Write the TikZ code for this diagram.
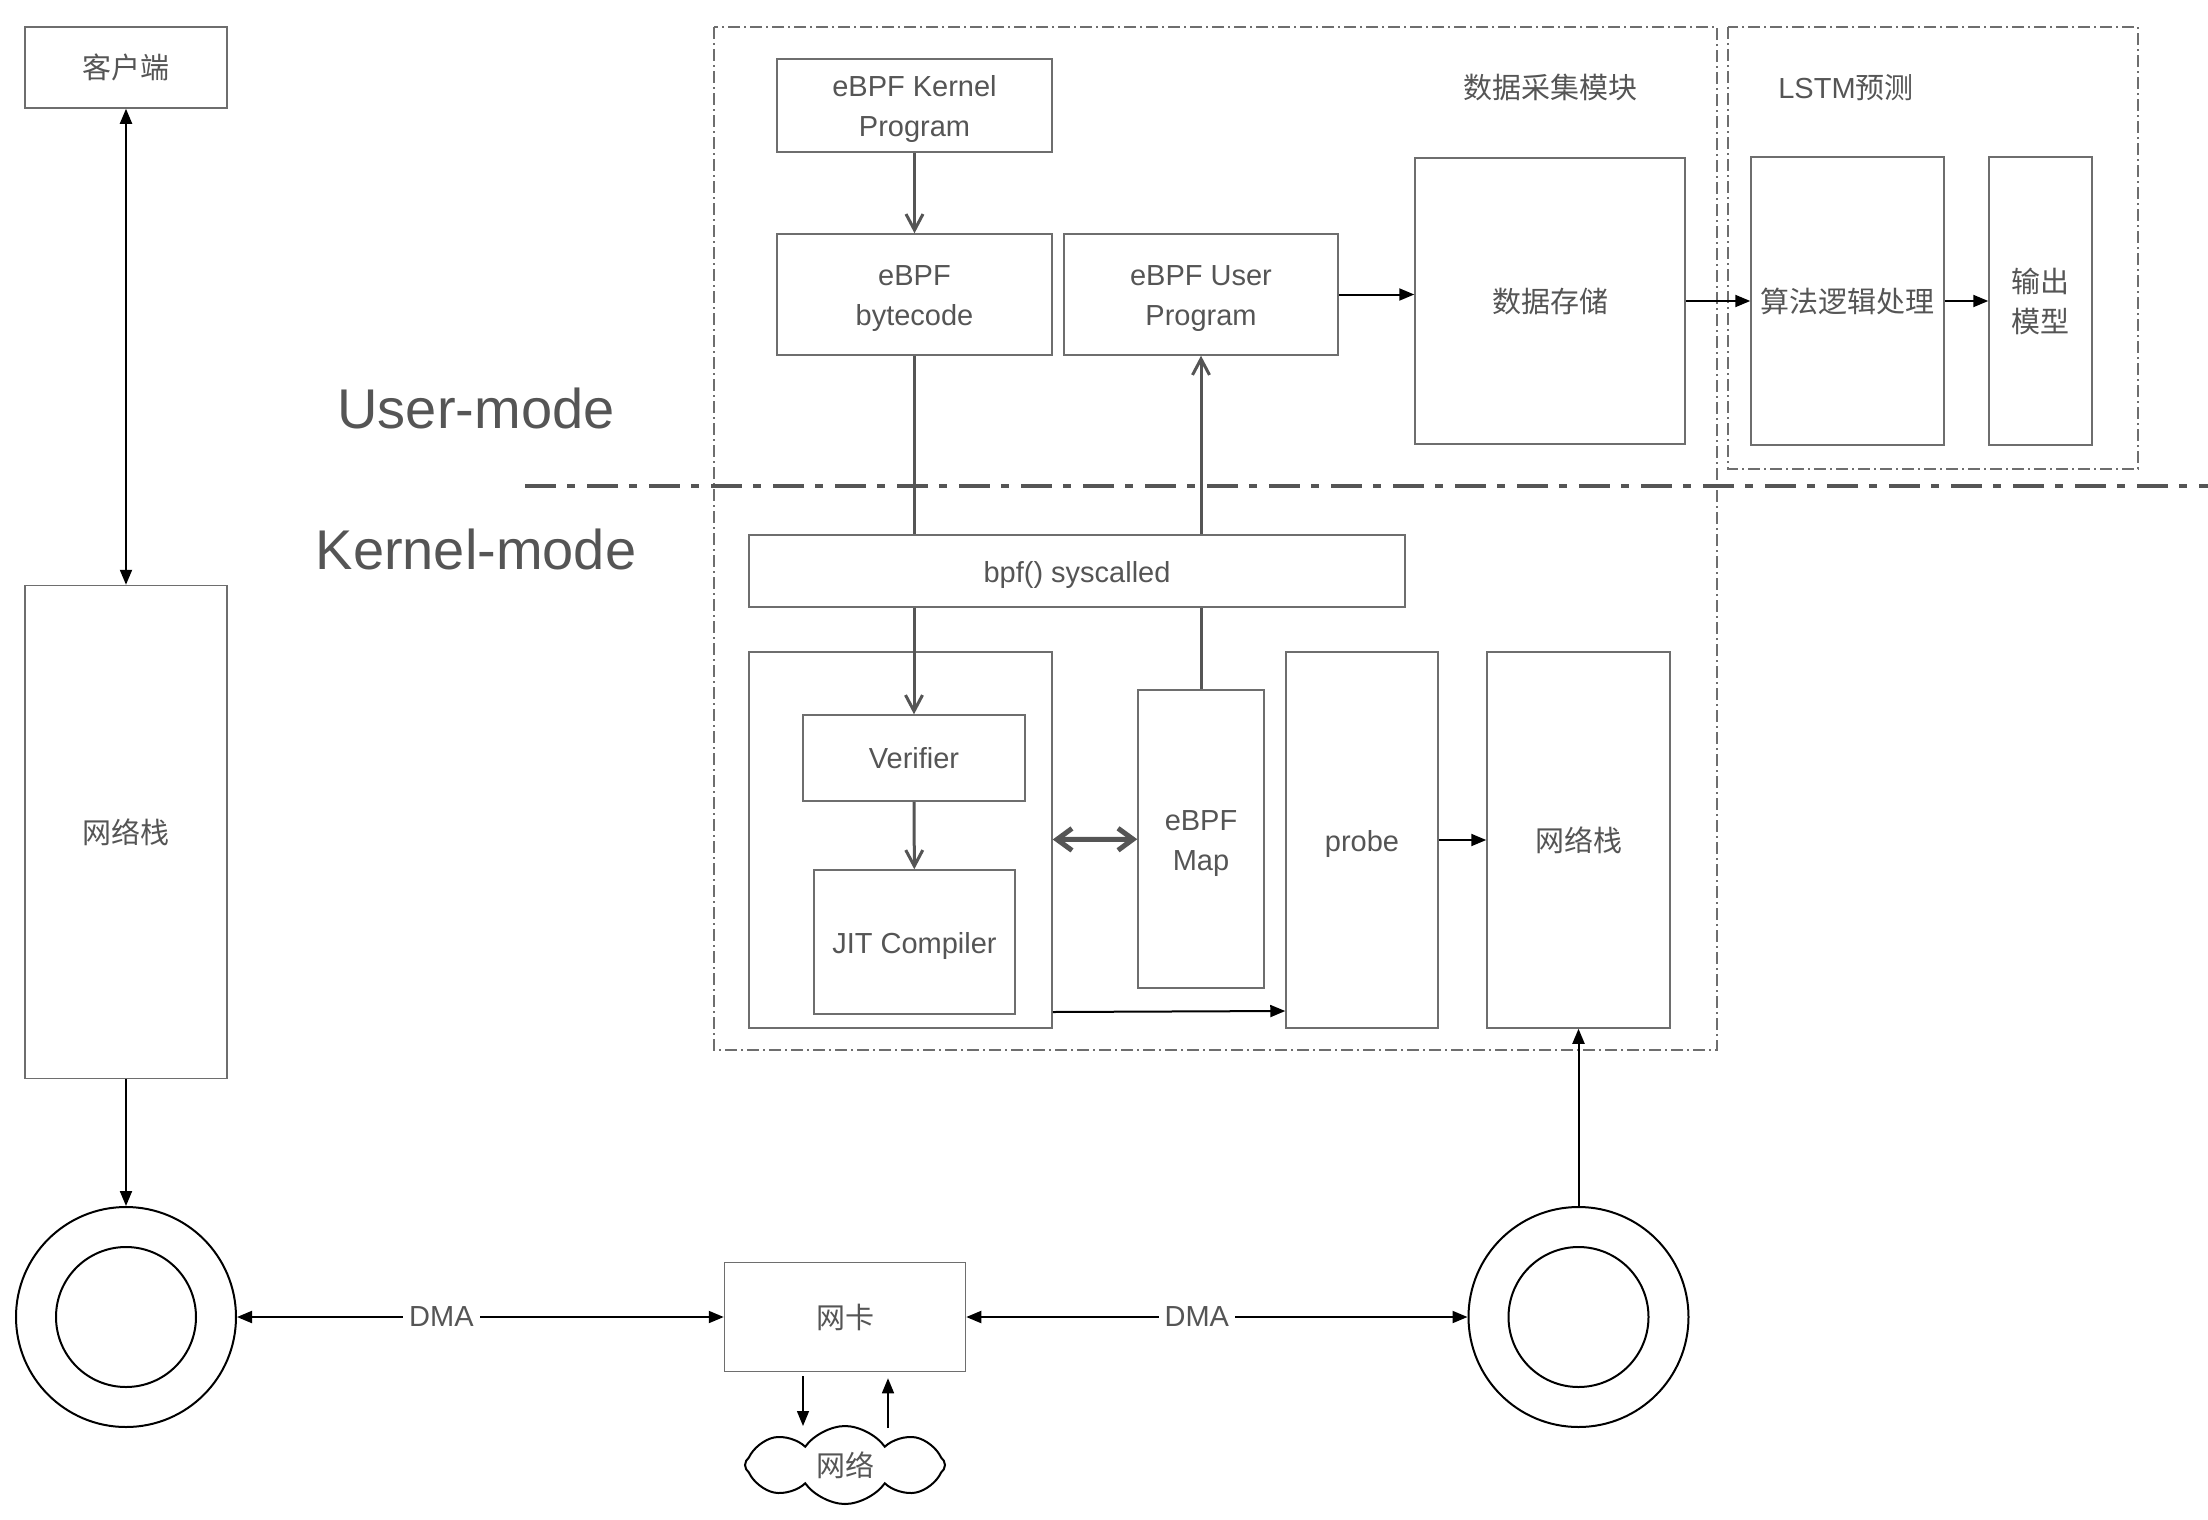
\documentclass[tikz,border=0pt]{standalone}
\usepackage{fontspec}
\setmainfont{Liberation Sans}
\newfontfamily\cjk{Noto Sans CJK SC}
\usepackage{tikz}
\usepackage{xcolor}
\usetikzlibrary{arrows.meta,shapes.symbols}

\definecolor{boxgray}{HTML}{6E6E6E}
\definecolor{txtgray}{HTML}{555555}
\definecolor{linegray}{HTML}{555555}
\newcommand{\lblfont}{\fontsize{29}{40}\selectfont}
\newcommand{\modefont}{\fontsize{56}{60}\selectfont}

\begin{document}
\begin{tikzpicture}[x=1pt, y=-1pt,
		box/.style={draw=boxgray, line width=1.5pt, fill=white, text=txtgray, align=center, inner sep=0pt, font=\lblfont},
		lowtext/.style={text height=29pt},
		twoline/.style={text height=69pt},
		frame/.style={draw=boxgray, line width=1.5pt, dash pattern=on 12pt off 4pt on 2pt off 4pt},
		ring/.style={draw=black, line width=2pt, circle, inner sep=0pt},
		blk/.style={draw=black, line width=2pt, -{Triangle[length=15pt,width=12pt]}},
		blkboth/.style={draw=black, line width=2pt, {Triangle[length=15pt,width=12pt]}-{Triangle[length=15pt,width=12pt]}},
		gry/.style={draw=linegray, line width=3pt, -{Straight Barb[length=16pt,width=17pt]}},
		lbl/.style={text=txtgray, font=\lblfont, inner sep=2pt}]
			\useasboundingbox (0,0) rectangle (2208,1520);
			\draw[frame] (714,27) rectangle (1717,1050);
			\draw[frame] (1728,27) rectangle (2138,469);
			\node[lbl] (collect) at (1550,87) {\cjk 数据采集模块};
			\node[lbl] (lstm) at (1846,88) {LSTM{\cjk 预测}};
			\node[text=txtgray, font=\modefont] (user) at (476,408) {User-mode};
			\node[text=txtgray, font=\modefont] (kernel) at (476,549) {Kernel-mode};
			% left side
			\node[box, minimum width=202pt, minimum height=81pt] (client) at (126,67.5) {\cjk 客户端};
			\node[box, minimum width=202pt, minimum height=493pt] (stackL) at (126,832) {\cjk 网络栈};
			\node[ring, minimum size=220pt] (ringL) at (126,1317) {};
			\node[ring, minimum size=140pt] (ringLin) at (126,1317) {};
			\node[ring, minimum size=220pt] (ringR) at (1578.5,1317) {};
			\node[ring, minimum size=140pt] (ringRin) at (1578.5,1317) {};
			\node[box, minimum width=241pt, minimum height=109pt] (nic) at (845,1317) {\cjk 网卡};
			\node[cloud, draw=black, line width=2pt, cloud puffs=8, cloud puff arc=110, cloud ignores aspect, minimum width=200pt, minimum height=78pt, inner sep=0pt, text=txtgray, font=\lblfont] (net) at (845,1465) {\cjk 网络};
			% ebpf part
			\node[box, twoline, minimum width=275pt, minimum height=93pt] (kprog) at (914.5,105.5) {eBPF Kernel\\Program};
			\node[box, twoline, minimum width=275pt, minimum height=121pt] (bytecode) at (914.5,294.5) {eBPF\\bytecode};
			\node[box, twoline, minimum width=274pt, minimum height=121pt] (userprog) at (1201,294.5) {eBPF User\\Program};
			\node[box, minimum width=270pt, minimum height=286pt] (storage) at (1550,301) {\cjk 数据存储};
			\node[box, minimum width=193pt, minimum height=288pt] (algo) at (1847.5,301) {\cjk 算法逻辑处理};
			\node[box, minimum width=103pt, minimum height=288pt] (outmodel) at (2040.5,301) {\cjk 输出\\\cjk 模型};
			\node[box, lowtext, minimum width=656pt, minimum height=72pt] (syscall) at (1077,571) {bpf() syscalled};
			\node[box, minimum width=303pt, minimum height=376pt] (jitbox) at (900.5,840) {};
			\node[box, minimum width=222pt, minimum height=86pt] (verifier) at (914,758) {Verifier};
			\node[box, lowtext, minimum width=201pt, minimum height=144pt] (jit) at (914.5,942) {JIT Compiler};
			\node[box, twoline, minimum width=126pt, minimum height=298pt] (map) at (1201,839) {eBPF\\Map};
			\node[box, lowtext, minimum width=152pt, minimum height=376pt] (probe) at (1362,840) {probe};
			\node[box, minimum width=183pt, minimum height=376pt] (stackR) at (1578.5,840) {\cjk 网络栈};
			\draw[gry] (kprog) -- (bytecode);
			\draw[gry, -] (bytecode) -- (syscall.north -| bytecode);
			\draw[gry] (syscall.south -| verifier) -- (verifier);
			\draw[gry] (verifier) -- (jit);
			\draw[gry, -] (map) -- (syscall.south -| map);
			\draw[gry] (syscall.north -| userprog) -- (userprog);
			\draw[gry, line width=5pt, {Straight Barb[length=15pt,width=22pt]}-{Straight Barb[length=15pt,width=22pt]}] (jitbox) -- (map);
			\draw[blk] ([yshift=-172pt]jitbox.east) -- ([yshift=-171pt]probe.west);
			\draw[blk] (probe) -- (stackR);
			\draw[blk] (userprog) -- (userprog -| storage.west);
			\draw[blk] (storage) -- (algo);
			\draw[blk] (algo) -- (outmodel);
			\draw[blkboth] (client) -- (stackL);
			\draw[blk] (stackL) -- (ringL);
			\draw[blk] (ringR) -- (stackR);
			\draw[blkboth] (ringL) -- node[pos=0.42, fill=white, lbl, inner xsep=6pt] (dmaL) {DMA} (nic);
			\draw[blkboth] (nic) -- node[pos=0.46, fill=white, lbl, inner xsep=6pt] (dmaR) {DMA} (ringR);
			\draw[blk, line width=1.5pt] ([xshift=-42pt,yshift=-4pt]nic.south) -- ([xshift=-42pt,yshift=-1pt]net.north);
			\draw[blk, line width=1.5pt] ([xshift=43pt,yshift=-3pt]net.north) -- ([xshift=43pt,yshift=-6pt]nic.south);
			\draw[draw=linegray, line width=4pt, dash pattern=on 31pt off 11pt on 8pt off 12pt] (525,486) -- (2208,486);
		\end{tikzpicture}
\end{document}
